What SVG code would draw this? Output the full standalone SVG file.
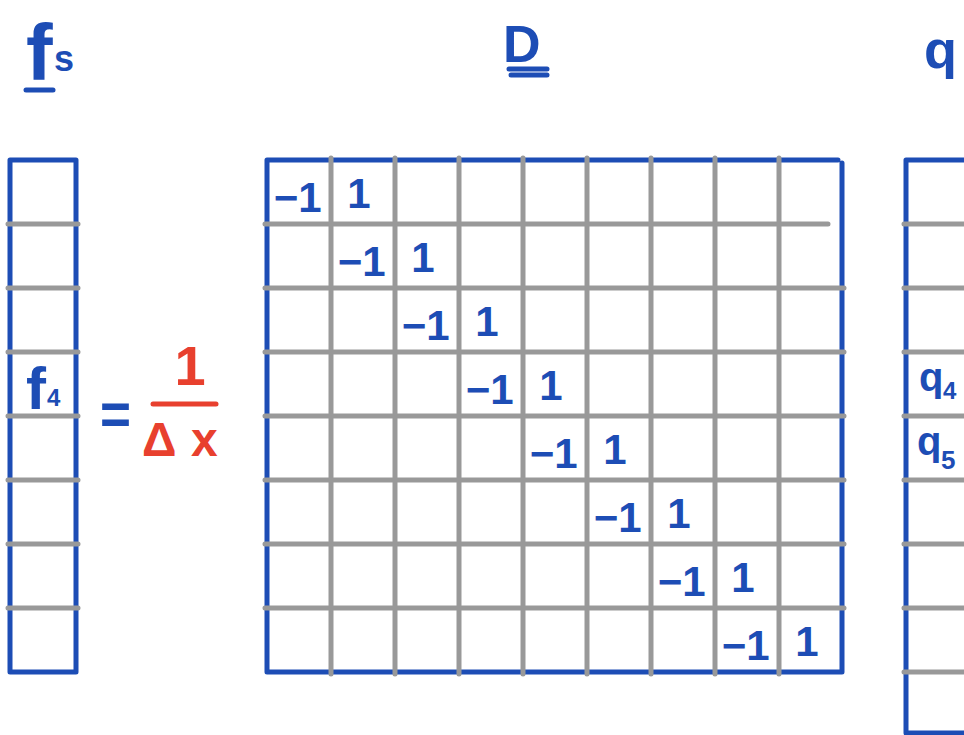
<svg xmlns="http://www.w3.org/2000/svg" width="964" height="735" viewBox="0 0 964 735">
<style>
.bl{stroke:#1d4db5;stroke-width:5;stroke-linecap:round;fill:none}
.gr{stroke:#999999;stroke-width:5;stroke-linecap:round;fill:none}
.rd{stroke:#e8402e;stroke-width:5;stroke-linecap:round;fill:none}
.t{font-family:"Liberation Sans",Arial,sans-serif;font-weight:bold;fill:#1d4db5}
.e{font-family:"Liberation Sans",Arial,sans-serif;font-weight:bold;fill:#1d4db5;font-size:42px;text-anchor:middle}
.r{font-family:"Liberation Sans",Arial,sans-serif;font-weight:bold;fill:#e8402e}
</style>
<rect width="964" height="735" fill="#ffffff"/>

<g id="fs-vector">
  <path class="bl" d="M10 160H76M10 160V672M76 160V672M10 672H76"/>
  <path class="gr" d="M8 224H78M8 288H78M8 352H78M8 416H78M8 480H78M8 544H78M8 608H78"/>
  <text class="t" x="26" y="409" font-size="60">f</text>
  <text class="t" x="47" y="406" font-size="24">4</text>
</g>

<g id="fs-label">
  <text class="t" x="26" y="80" font-size="80">f</text>
  <text class="t" x="54" y="71" font-size="36">s</text>
  <path class="bl" d="M26 90H53"/>
</g>

<g id="D-label">
  <text class="t" x="503" y="62" font-size="52">D</text>
  <path class="bl" d="M509 69H547M511 75H547"/>
</g>

<g id="q-label">
  <text class="t" x="924" y="68" font-size="54">q</text>
</g>

<g id="equals">
  <text class="t" x="100" y="434" font-size="60" textLength="31" lengthAdjust="spacingAndGlyphs">=</text>
</g>

<g id="factor">
  <text class="r" x="190" y="385" font-size="56" text-anchor="middle">1</text>
  <path class="rd" d="M153 404H216"/>
  <text class="r" x="142" y="456" font-size="48">Δ</text>
  <text class="r" x="191" y="456" font-size="48">x</text>
</g>

<g id="D-matrix">
  <path class="bl" d="M267 160H838M267 160V672M842 163V672M267 672H842"/>
  <path class="gr" d="M331 158V674M395 158V674M459 158V674M523 158V674M587 158V674M651 158V674M715 158V674M779 158V674"/>
  <path class="gr" d="M265 224H828M265 288H844M265 352H844M265 416H844M265 480H844M265 544H844M265 608H844"/>
  <text class="e" x="286 310" y="212">−1</text><text class="e" x="359" y="208">1</text>
  <text class="e" x="350 374" y="276">−1</text><text class="e" x="423" y="272">1</text>
  <text class="e" x="414 438" y="340">−1</text><text class="e" x="487" y="336">1</text>
  <text class="e" x="478 502" y="404">−1</text><text class="e" x="551" y="400">1</text>
  <text class="e" x="542 566" y="468">−1</text><text class="e" x="615" y="464">1</text>
  <text class="e" x="606 630" y="532">−1</text><text class="e" x="679" y="528">1</text>
  <text class="e" x="670 694" y="596">−1</text><text class="e" x="743" y="592">1</text>
  <text class="e" x="734 758" y="660">−1</text><text class="e" x="807" y="656">1</text>
</g>

<g id="q-vector">
  <path class="bl" d="M906 160H966M906 160V733M906 733H966"/>
  <path class="gr" d="M904 224H966M904 288H966M904 352H966M904 416H966M904 480H966M904 544H966M904 608H966M904 672H966"/>
  <text class="t" x="919" y="391" font-size="40">q</text>
  <text class="t" x="943" y="399" font-size="24">4</text>
  <text class="t" x="917" y="455" font-size="40">q</text>
  <text class="t" x="941" y="469" font-size="26">5</text>
</g>
</svg>
